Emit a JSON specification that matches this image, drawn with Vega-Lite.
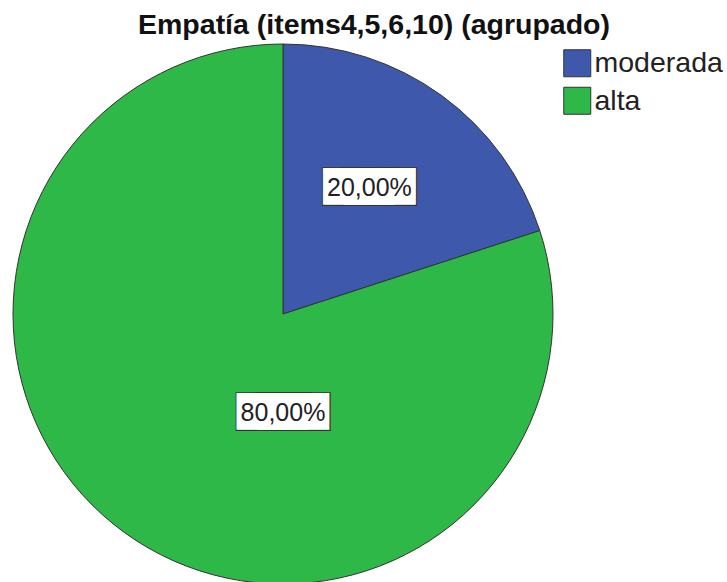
{
  "$schema": "https://vega.github.io/schema/vega-lite/v6.json",
  "width": 566,
  "height": 540,
  "autosize": "none",
  "padding": {"top": 44, "left": 0, "right": 161, "bottom": 0},
  "background": "white",
  "title": {
    "text": "Empatía (items4,5,6,10) (agrupado)",
    "font": "Liberation Sans",
    "fontSize": 28.5,
    "fontWeight": "bold",
    "color": "#111111",
    "anchor": "middle",
    "frame": "group",
    "dx": 91,
    "dy": 28,
    "offset": 8,
    "baseline": "alphabetic"
  },
  "data": {
    "values": [
      {"categoria": "moderada", "porcentaje": 20, "etiqueta": "20,00%", "orden": 1},
      {"categoria": "alta", "porcentaje": 80, "etiqueta": "80,00%", "orden": 2}
    ]
  },
  "layer": [
    {
      "mark": {"type": "arc", "stroke": "#333333", "strokeWidth": 1},
      "encoding": {
        "theta": {"field": "porcentaje", "type": "quantitative", "stack": true},
        "order": {"field": "orden", "type": "quantitative"},
        "color": {
          "field": "categoria",
          "type": "nominal",
          "scale": {"domain": ["moderada", "alta"], "range": ["#3E58AC", "#2EB848"]},
          "legend": {
            "title": null,
            "orient": "right",
            "offset": -8,
            "padding": 5,
            "symbolType": "square",
            "symbolSize": 729,
            "symbolStrokeColor": "#333333",
            "symbolStrokeWidth": 1,
            "symbolOpacity": 1,
            "labelFont": "Liberation Sans",
            "labelFontSize": 28.5,
            "labelColor": "#222222",
            "labelOffset": 3,
            "rowPadding": 5.5,
            "labelLimit": 300
          }
        }
      }
    },
    {
      "encoding": {
        "theta": {"field": "porcentaje", "type": "quantitative", "stack": true, "scale": {"range": [0.0917, 5.175]}},
        "order": {"field": "orden", "type": "quantitative"},
        "detail": {"field": "categoria", "type": "nominal"},
        "radius": {"field": "porcentaje", "type": "quantitative", "scale": {"type": "linear", "domain": [20, 80], "range": [153, 99], "zero": false}}
      },
      "layer": [
        {"mark": {"type": "text", "text": "███", "font": "DejaVu Sans", "fontSize": 32.7, "fill": "#333333", "align": "center", "baseline": "middle", "dx": -9.45}},
        {"mark": {"type": "text", "text": "███", "font": "DejaVu Sans", "fontSize": 32.7, "fill": "#333333", "align": "center", "baseline": "middle", "dx": 9.45}},
        {"mark": {"type": "text", "text": "███", "font": "DejaVu Sans", "fontSize": 30.9, "fill": "#ffffff", "align": "center", "baseline": "middle", "dx": -10.5}},
        {"mark": {"type": "text", "text": "███", "font": "DejaVu Sans", "fontSize": 30.9, "fill": "#ffffff", "align": "center", "baseline": "middle", "dx": 10.5}},
        {"mark": {"type": "text", "font": "Liberation Sans", "fontSize": 25, "fill": "#222222", "align": "center", "baseline": "middle"}, "encoding": {"text": {"field": "etiqueta", "type": "nominal"}}}
      ]
    }
  ],
  "resolve": {"scale": {"theta": "independent", "radius": "independent"}},
  "config": {"view": {"stroke": null}}
}
